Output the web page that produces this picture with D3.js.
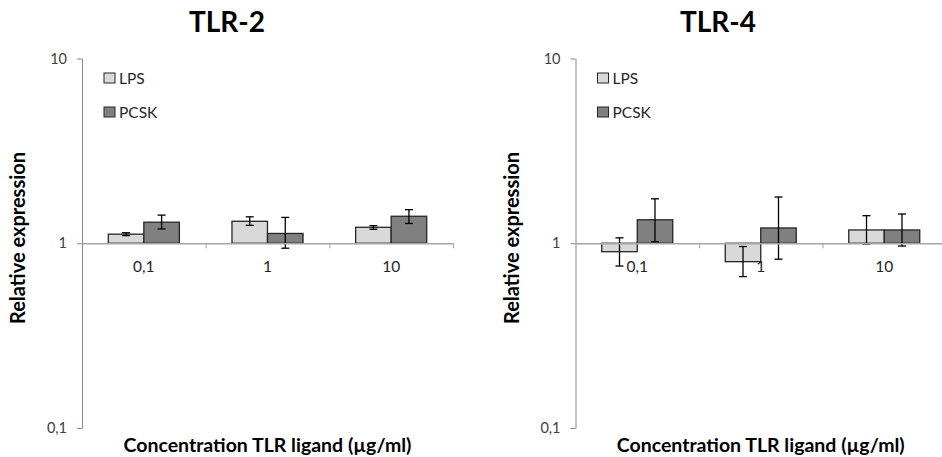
<!DOCTYPE html>
<html>
<head>
<meta charset="utf-8">
<script src="https://cdn.jsdelivr.net/npm/d3@7"></script>
<style>
  body { margin: 0; background: #fff; }
  text { font-family: Lato, "Open Sans", sans-serif; }
</style>
</head>
<body>
<div id="canvas"></div>
<script>
'use strict';

// categories and series
const categories = ['0,1', '1', '10'];
const seriesNames = ['LPS', 'PCSK'];
const seriesColors = ['#d9d9d9', '#808080'];
const yTickValues = [0.1, 1, 10];
const yTickLabels = ['0,1', '1', '10'];

// TLR-2 values, with lower / upper error bounds
const tlr2Lps = [1.12, 1.315, 1.22];
const tlr2LpsLow = [1.10, 1.25, 1.19];
const tlr2LpsHigh = [1.14, 1.39, 1.245];
const tlr2Pcsk = [1.30, 1.13, 1.40];
const tlr2PcskLow = [1.195, 0.94, 1.28];
const tlr2PcskHigh = [1.42, 1.38, 1.52];

// TLR-4 values, with lower / upper error bounds
const tlr4Lps = [0.90, 0.795, 1.18];
const tlr4LpsLow = [0.753, 0.66, 0.99];
const tlr4LpsHigh = [1.07, 0.96, 1.41];
const tlr4Pcsk = [1.34, 1.21, 1.18];
const tlr4PcskLow = [1.02, 0.82, 0.966];
const tlr4PcskHigh = [1.74, 1.78, 1.44];

const width = 942;
const height = 457;

const svg = d3.select('#canvas').append('svg')
    .attr('width', width)
    .attr('height', height);

/* Builds the row list for one panel from the named arrays. */
function rowsFor(values, lows, highs) {
  return categories.map((c, i) => ({
    category: c,
    series: seriesNames.map((s, k) => ({
      name: s,
      value: values[k][i],
      low: lows[k][i],
      high: highs[k][i],
    })),
  }));
}

function drawPanel(opts) {
  const g = svg.append('g');
  const y = d3.scaleLog().domain([0.1, 10]).range([428, 58.5]);
  const x = d3.scaleBand().domain(categories)
      .range([opts.left, opts.right]).padding(0);
  const x1 = d3.scaleBand().domain(seriesNames)
      .range([0, x.bandwidth()]).paddingInner(0).paddingOuter(0.74);
  const color = d3.scaleOrdinal().domain(seriesNames).range(seriesColors);
  const base = y(1);

  // title
  g.append('text')
      .attr('x', opts.titleX)
      .attr('y', 32)
      .attr('text-anchor', 'middle')
      .style('font-size', '28px')
      .style('font-weight', 'bold')
      .text(opts.title);

  // y axis
  const yAxis = g.append('g')
      .attr('transform', `translate(${opts.left},0)`)
      .call(d3.axisLeft(y)
          .tickValues(yTickValues)
          .tickFormat((d, i) => yTickLabels[i])
          .tickSize(5)
          .tickSizeOuter(0)
          .tickPadding(10));
  yAxis.select('.domain').attr('stroke', '#868686');
  yAxis.selectAll('.tick line').attr('stroke', '#868686');
  yAxis.selectAll('.tick text')
      .attr('fill', '#404040')
      .style('font-size', '14.5px')
      .style('font-family', 'Lato, sans-serif');

  // bars
  const rows = rowsFor(opts.values, opts.lows, opts.highs);
  const groups = g.selectAll('g.cat').data(rows).join('g')
      .attr('class', 'cat')
      .attr('transform', (d) => `translate(${x(d.category)},0)`);

  groups.selectAll('rect').data((d) => d.series).join('rect')
      .attr('x', (d) => x1(d.name))
      .attr('y', (d) => Math.min(y(d.value), base))
      .attr('width', x1.bandwidth())
      .attr('height', (d) => Math.abs(y(d.value) - base))
      .attr('fill', (d) => color(d.name))
      .attr('stroke', '#262626')
      .attr('stroke-width', 1.3);

  // x axis line at 1, ticks at category boundaries
  const xLine = d3.scaleLinear().domain([0, categories.length])
      .range([opts.left, opts.right]);
  const xAxis = g.append('g')
      .attr('transform', `translate(0,${base})`)
      .call(d3.axisBottom(xLine)
          .tickValues(d3.range(1, categories.length + 1))
          .tickFormat('')
          .tickSize(5)
          .tickSizeOuter(0));
  xAxis.select('.domain').attr('stroke', '#a6a6a6').attr('stroke-width', 1.5);
  xAxis.selectAll('.tick line').attr('stroke', '#a6a6a6');

  // error bars
  const err = groups.selectAll('g.err').data((d) => d.series).join('g')
      .attr('class', 'err')
      .attr('stroke', '#000')
      .attr('stroke-width', 1.3);
  const cx = (d) => x1(d.name) + x1.bandwidth() / 2;
  err.append('line')
      .attr('x1', cx).attr('x2', cx)
      .attr('y1', (d) => y(d.low)).attr('y2', (d) => y(d.high));
  err.append('line')
      .attr('x1', (d) => cx(d) - 4).attr('x2', (d) => cx(d) + 4)
      .attr('y1', (d) => y(d.low)).attr('y2', (d) => y(d.low));
  err.append('line')
      .attr('x1', (d) => cx(d) - 4).attr('x2', (d) => cx(d) + 4)
      .attr('y1', (d) => y(d.high)).attr('y2', (d) => y(d.high));

  // category labels
  g.selectAll('text.cat-label').data(categories).join('text')
      .attr('class', 'cat-label')
      .attr('x', (d) => x(d) + x.bandwidth() / 2)
      .attr('y', base + 29)
      .attr('text-anchor', 'middle')
      .attr('fill', '#262626')
      .style('font-size', '15.5px')
      .text((d) => d);

  // legend
  const legend = g.append('g')
      .attr('transform', `translate(${opts.left + 22},73)`);
  seriesNames.forEach((s, i) => {
    legend.append('rect')
        .attr('x', 0).attr('y', i * 34)
        .attr('width', 11).attr('height', 10)
        .attr('fill', color(s))
        .attr('stroke', '#262626')
        .attr('stroke-width', 1);
    legend.append('text')
        .attr('x', 15).attr('y', i * 34 + 10.5)
        .attr('fill', '#262626')
        .style('font-size', '15.5px')
        .text(s);
  });

  // axis titles
  g.append('text')
      .attr('x', (opts.left + opts.right) / 2)
      .attr('y', 452)
      .attr('text-anchor', 'middle')
      .style('font-size', '19.5px')
      .style('font-weight', 'bold')
      .text('Concentration TLR ligand (\u00b5g/ml)');

  g.append('text')
      .attr('transform', `translate(${opts.left - 57},238) rotate(-90)`)
      .attr('text-anchor', 'middle')
      .style('font-size', '20px')
      .style('font-weight', 'bold')
      .text('Relative expression');
}

drawPanel({
  title: 'TLR-2', titleX: 227, left: 82, right: 453,
  values: [tlr2Lps, tlr2Pcsk],
  lows: [tlr2LpsLow, tlr2PcskLow],
  highs: [tlr2LpsHigh, tlr2PcskHigh],
});

drawPanel({
  title: 'TLR-4', titleX: 718, left: 575.5, right: 946,
  values: [tlr4Lps, tlr4Pcsk],
  lows: [tlr4LpsLow, tlr4PcskLow],
  highs: [tlr4LpsHigh, tlr4PcskHigh],
});
</script>
</body>
</html>
